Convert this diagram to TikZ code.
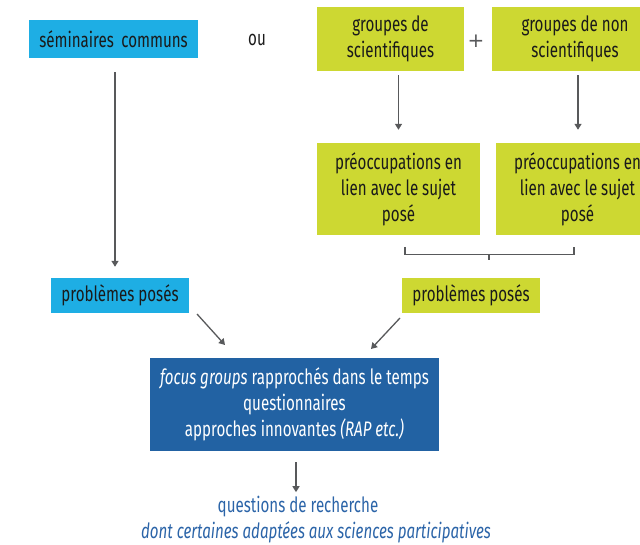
\documentclass[tikz,border=0pt]{standalone}
\usepackage{fontspec}
\setmainfont{Fira Sans}[FakeStretch=0.72]
\newfontfamily\plusfont{DejaVu Sans}
\usetikzlibrary{arrows.meta,calc}
\definecolor{cyanbox}{HTML}{1EAEE4}
\definecolor{greenbox}{HTML}{CDD832}
\definecolor{bluebox}{HTML}{2262A3}
\definecolor{arrowgray}{HTML}{58595B}
\definecolor{bluetext}{HTML}{2B64A8}
\definecolor{darktext}{HTML}{1A1A1A}
\tikzset{
  box/.style={rectangle, inner sep=0pt, align=center, text=darktext,
    font=\fontsize{21}{26}\selectfont},
  cbox/.style={box, fill=cyanbox},
  gbox/.style={box, fill=greenbox},
  bbox/.style={box, fill=bluebox, text=white},
  plain/.style={inner sep=0pt, align=center, text=darktext, font=\fontsize{21}{26}\selectfont},
  arr/.style={draw=arrowgray, line width=1.3pt, -{Triangle[width=7pt,length=6pt]}},
  brk/.style={draw=arrowgray, line width=1.2pt}
}
\begin{document}
\begin{tikzpicture}[x=1pt,y=-1pt]
\useasboundingbox (0,0) rectangle (640,545);
\clip (0,0) rectangle (640,545);
\node[cbox, minimum width=169pt, minimum height=38pt] (sem) at (113.5,39) {séminaires\, communs};
\node[plain] (ou) at (257,40) {ou};
\node[gbox, minimum width=147pt, minimum height=64pt] (gs) at (390.5,39) {groupes de\\scientifiques};
\node[inner sep=0pt, text=arrowgray] (plus) at (476,41) {\plusfont\fontsize{20}{20}\selectfont +};
\node[gbox, minimum width=166pt, minimum height=64pt] (gns) at (575,39) {groupes de non\\scientifiques};
\node[gbox, minimum width=163pt, minimum height=92pt] (pre1) at (398.5,189) {préoccupations en\\lien avec le sujet\\posé};
\node[gbox, minimum width=163pt, minimum height=92pt] (pre2) at (577.5,189) {préoccupations en\\lien avec le sujet\\posé};
\node[cbox, minimum width=138pt, minimum height=35pt] (prob1) at (120,295.5) {problèmes posés};
\node[gbox, minimum width=138pt, minimum height=35pt] (prob2) at (471,295.5) {problèmes posés};
\node[bbox, minimum width=289pt, minimum height=93pt] (focus) at (294.5,404.5)
  {\textit{focus groups} rapprochés dans le temps\\questionnaires\\approches innovantes \textit{(RAP etc.)}};
\node[plain, text=bluetext] (quest) at (307,520) {\hspace*{-18pt}questions de recherche\\\hspace*{18pt}\textit{dont certaines adaptées aux sciences participatives}};

% arrows
\draw[arr, shorten <=14pt, shorten >=11pt] ($(sem.south)+(1.5,0)$) -- ($(prob1.north)+(-5,0)$);
\draw[arr, shorten <=4pt, shorten >=13pt] (pre1.north |- gs.south) -- (pre1.north);
\draw[arr, shorten <=4pt, shorten >=13pt] ($(pre2.north |- gns.south)+(0.5,0)$) -- ($(pre2.north)+(0.5,0)$);
\coordinate (d1s) at (197,314);
\coordinate (d1e) at (225,345);
\coordinate (d2s) at (400,318);
\coordinate (d2e) at (371,349);
\draw[arr] (d1s) -- (d1e);
\draw[arr] (d2s) -- (d2e);
\draw[arr, shorten <=11pt, shorten >=0pt] ($(focus.south)+(1.5,0)$) -- ($(focus.south)+(1.5,41)$);

% bracket
\draw[brk] (405,247) -- (405,254.5) -- (574,254.5) -- (574,247);
\draw[brk] (489,254.5) -- (489,260);
\end{tikzpicture}
\end{document}
